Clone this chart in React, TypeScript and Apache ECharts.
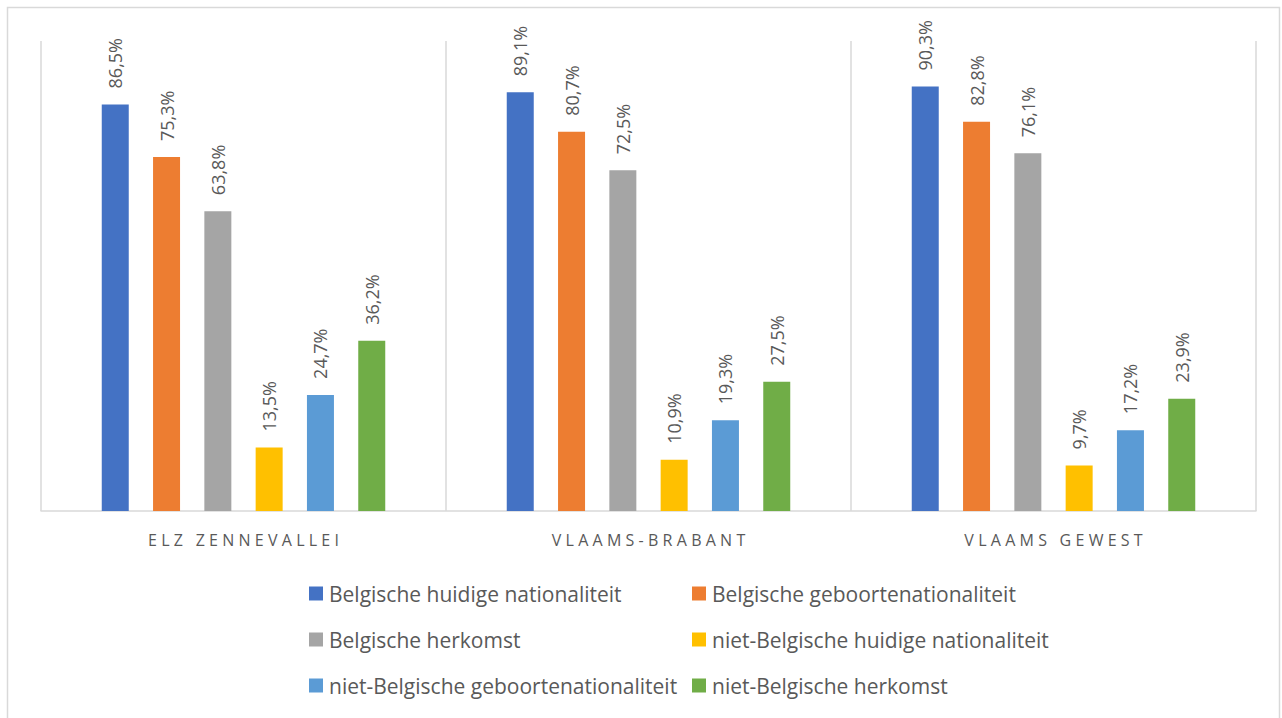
import React, { useEffect, useRef } from "react";
import * as echarts from "echarts";

const categories = ["ELZ ZENNEVALLEI", "VLAAMS-BRABANT", "VLAAMS GEWEST"];
const seriesNames = [
  "Belgische huidige nationaliteit",
  "Belgische geboortenationaliteit",
  "Belgische herkomst",
  "niet-Belgische huidige nationaliteit",
  "niet-Belgische geboortenationaliteit",
  "niet-Belgische herkomst",
];
const belgHuidig = [86.5, 89.1, 90.3];
const belgGeboorte = [75.3, 80.7, 82.8];
const belgHerkomst = [63.8, 72.5, 76.1];
const nietBelgHuidig = [13.5, 10.9, 9.7];
const nietBelgGeboorte = [24.7, 19.3, 17.2];
const nietBelgHerkomst = [36.2, 27.5, 23.9];
const colors = ["#4472C4", "#ED7D31", "#A5A5A5", "#FFC000", "#5B9BD5", "#70AD47"];

const FONT = "'Segoe UI', 'Open Sans', 'Noto Sans', sans-serif";

export default function App() {
  const ref = useRef<HTMLDivElement>(null);
  useEffect(() => {
    if (!ref.current) return;
    const chart = echarts.init(ref.current, undefined, { renderer: "svg" });
    const values = [belgHuidig, belgGeboorte, belgHerkomst, nietBelgHuidig, nietBelgGeboorte, nietBelgHerkomst];
    const legendText = {
      color: "#595959",
      fontSize: 21,
      lineHeight: 21,
      fontFamily: FONT,
      padding: [0, 0, 0, 1],
    };
    const legendBase = {
      orient: "vertical",
      top: 583,
      padding: 0,
      itemWidth: 14,
      itemHeight: 14,
      itemGap: 25,
      icon: "rect",
      textStyle: legendText,
    };
    chart.setOption({
      animation: false,
      backgroundColor: "#ffffff",
      color: colors,
      graphic: [
        {
          type: "rect",
          shape: { x: 7.5, y: 7.5, width: 1272, height: 730 },
          style: { fill: "none", stroke: "#d9d9d9", lineWidth: 1.5 },
          silent: true,
        },
      ],
      grid: { left: 41, right: 26, top: 41, bottom: 207, containLabel: false },
      legend: [
        { ...legendBase, data: [seriesNames[0], seriesNames[2], seriesNames[4]], left: 309 },
        { ...legendBase, data: [seriesNames[1], seriesNames[3], seriesNames[5]], left: 692 },
      ],
      xAxis: {
        type: "category",
        data: categories,
        axisLine: { show: true, lineStyle: { color: "#d9d9d9", width: 1.5 } },
        axisTick: { show: false },
        splitLine: { show: true, interval: 0, lineStyle: { color: "#d9d9d9", width: 1.5 } },
        axisLabel: {
          color: "#595959",
          fontSize: 16,
          fontFamily: FONT,
          margin: 21,
          formatter: (v: string) => v.split("").join("\u2009\u200A"),
        },
      },
      yAxis: {
        type: "value",
        min: 0,
        max: 100,
        show: false,
        splitLine: { show: false },
      },
      series: seriesNames.map((name, i) => ({
        name,
        type: "bar",
        data: values[i],
        barGap: "90%",
        barCategoryGap: "30%",
        itemStyle: { color: colors[i] },
        label: {
          show: true,
          position: "top",
          rotate: 90,
          align: "left",
          verticalAlign: "middle",
          distance: 16,
          color: "#595959",
          fontSize: 18,
          fontFamily: FONT,
          formatter: (p: any) => p.value.toFixed(1).replace(".", ",") + "%",
        },
      })),
    });
    return () => chart.dispose();
  }, []);
  return (
    <div
      ref={ref}
      style={{ position: "absolute", left: 0, top: 0, width: 1282, height: 718 }}
    />
  );
}
